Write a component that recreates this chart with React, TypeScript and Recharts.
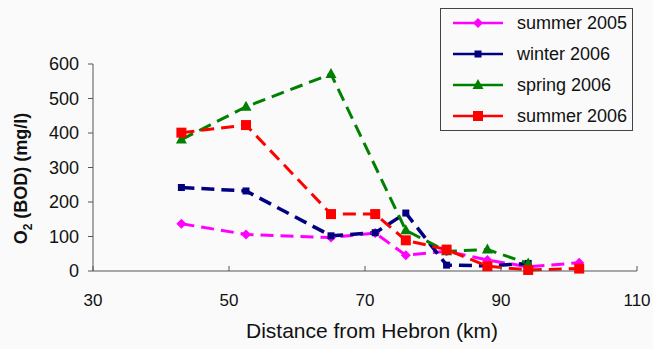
import { LineChart, Line, XAxis, YAxis, Legend } from "recharts";

document.body.style.margin = "0";

const FONT = "'Liberation Sans', Arial, sans-serif";

// distance from Hebron (km) for each sampling site
const distances = [43, 52.5, 65, 71.5, 76, 82, 88, 94, 101.5];
const winterDistances = [43, 52.5, 65, 71.5, 76, 82, 88, 94];
const springDistances = [43, 52.5, 65, 76, 82, 88, 94];

// BOD values (mg/l)
const summer2005 = [137, 106, 97, 110, 46, 57, 32, 12, 24];
const winter2006 = [242, 232, 102, 111, 168, 17, 15, 22];
const spring2006 = [381, 476, 571, 118, 57, 62, 22];
const summer2006 = [401, 423, 165, 165, 89, 62, 14, 3, 7];

const xTicks = [30, 50, 70, 90, 110];
const yTicks = [0, 100, 200, 300, 400, 500, 600];

const toPoints = (xs: number[], ys: number[]) => xs.map((x, i) => ({ x, y: ys[i] }));

type MarkerKind = "diamond" | "square" | "triangle" | "bigSquare";

const series = [
  { name: "summer 2005", color: "#ff00ff", marker: "diamond" as MarkerKind, width: 3, data: toPoints(distances, summer2005) },
  { name: "winter 2006", color: "#000080", marker: "square" as MarkerKind, width: 3.5, data: toPoints(winterDistances, winter2006) },
  { name: "spring 2006", color: "#008000", marker: "triangle" as MarkerKind, width: 3, data: toPoints(springDistances, spring2006) },
  { name: "summer 2006", color: "#ff0000", marker: "bigSquare" as MarkerKind, width: 3, data: toPoints(distances, summer2006) },
];

function Marker({ cx, cy, kind, color }: { cx: number; cy: number; kind: MarkerKind; color: string }) {
  if (kind === "diamond") {
    return <polygon points={`${cx},${cy - 5} ${cx + 5},${cy} ${cx},${cy + 5} ${cx - 5},${cy}`} fill={color} />;
  }
  if (kind === "triangle") {
    return <polygon points={`${cx},${cy - 6} ${cx + 5.5},${cy + 4} ${cx - 5.5},${cy + 4}`} fill={color} />;
  }
  const s = kind === "bigSquare" ? 10 : 7;
  return <rect x={cx - s / 2} y={cy - s / 2} width={s} height={s} fill={color} />;
}

const X_TICK_MARGIN = 23;

function XTick(props: any) {
  const { x, y, payload } = props;
  const axisY = y - X_TICK_MARGIN;
  return (
    <g>
      <line x1={x} x2={x} y1={axisY} y2={axisY - 5} stroke="#555" />
      <text x={x} y={axisY + 35} textAnchor="middle" fontSize={17} fontFamily={FONT} fill="#111">
        {payload.value}
      </text>
    </g>
  );
}

function XLabel(props: any) {
  const { viewBox } = props;
  return (
    <text x={viewBox.x + viewBox.width / 2 + 7} y={338} textAnchor="middle" fontSize={21} fontFamily={FONT} fill="#111">
      Distance from Hebron (km)
    </text>
  );
}

function YLabel(props: any) {
  const { viewBox } = props;
  const cx = 27;
  const cy = viewBox.y + viewBox.height / 2 + 11;
  return (
    <text
      x={cx}
      y={cy}
      transform={`rotate(-90, ${cx}, ${cy})`}
      textAnchor="middle"
      fontSize={18}
      fontWeight="bold"
      fontFamily={FONT}
      fill="#111"
    >
      O<tspan fontSize={12} dy={5}>2</tspan>
      <tspan dy={-5}> (BOD) (mg/l)</tspan>
    </text>
  );
}

function LegendBox() {
  return (
    <div
      style={{
        position: "relative",
        width: 193,
        height: 123,
        border: "1px solid #444",
        boxSizing: "border-box",
        fontFamily: FONT,
        fontSize: 18,
        color: "#111",
      }}
    >
      {series.map((s, i) => (
        <div
          key={s.name}
          style={{ position: "absolute", left: 0, top: 14 + i * 31 - 11, height: 22, display: "flex", alignItems: "center" }}
        >
          <svg width={76} height={22}>
            <line x1={12} x2={62} y1={11} y2={11} stroke={s.color} strokeWidth={2.5} />
            <Marker cx={37} cy={11} kind={s.marker} color={s.color} />
          </svg>
          <span style={{ whiteSpace: "nowrap" }}>{s.name}</span>
        </div>
      ))}
    </div>
  );
}

export default function App() {
  return (
    <div style={{ width: 653, height: 349, background: "#fafafa" }}>
      <LineChart width={653} height={349} margin={{ top: 64, right: 16, bottom: 18, left: 0 }}>
        <XAxis
          type="number"
          dataKey="x"
          domain={[30, 110]}
          ticks={xTicks}
          allowDuplicatedCategory={false}
          height={60}
          stroke="#555"
          tickSize={0}
          tickMargin={X_TICK_MARGIN}
          tick={<XTick />}
          label={{ content: <XLabel /> }}
        />
        <YAxis
          type="number"
          dataKey="y"
          domain={[0, 600]}
          ticks={yTicks}
          width={93}
          stroke="#555"
          tickSize={5}
          tickMargin={9}
          tick={{ fontSize: 18, fontFamily: FONT, fill: "#111" }}
          label={{ content: <YLabel /> }}
        />
        <Legend
          layout="vertical"
          align="center"
          verticalAlign="middle"
          wrapperStyle={{ top: 8, left: 440, width: 193, height: 123 }}
          content={<LegendBox />}
        />
        {series.map((s) => (
          <Line
            key={s.name}
            name={s.name}
            data={s.data}
            dataKey="y"
            type="linear"
            stroke={s.color}
            strokeWidth={s.width}
            strokeDasharray="13 7"
            isAnimationActive={false}
            activeDot={false}
            dot={(p: any) => <Marker key={`${s.name}-${p.index}`} cx={p.cx} cy={p.cy} kind={s.marker} color={s.color} />}
          />
        ))}
      </LineChart>
    </div>
  );
}
